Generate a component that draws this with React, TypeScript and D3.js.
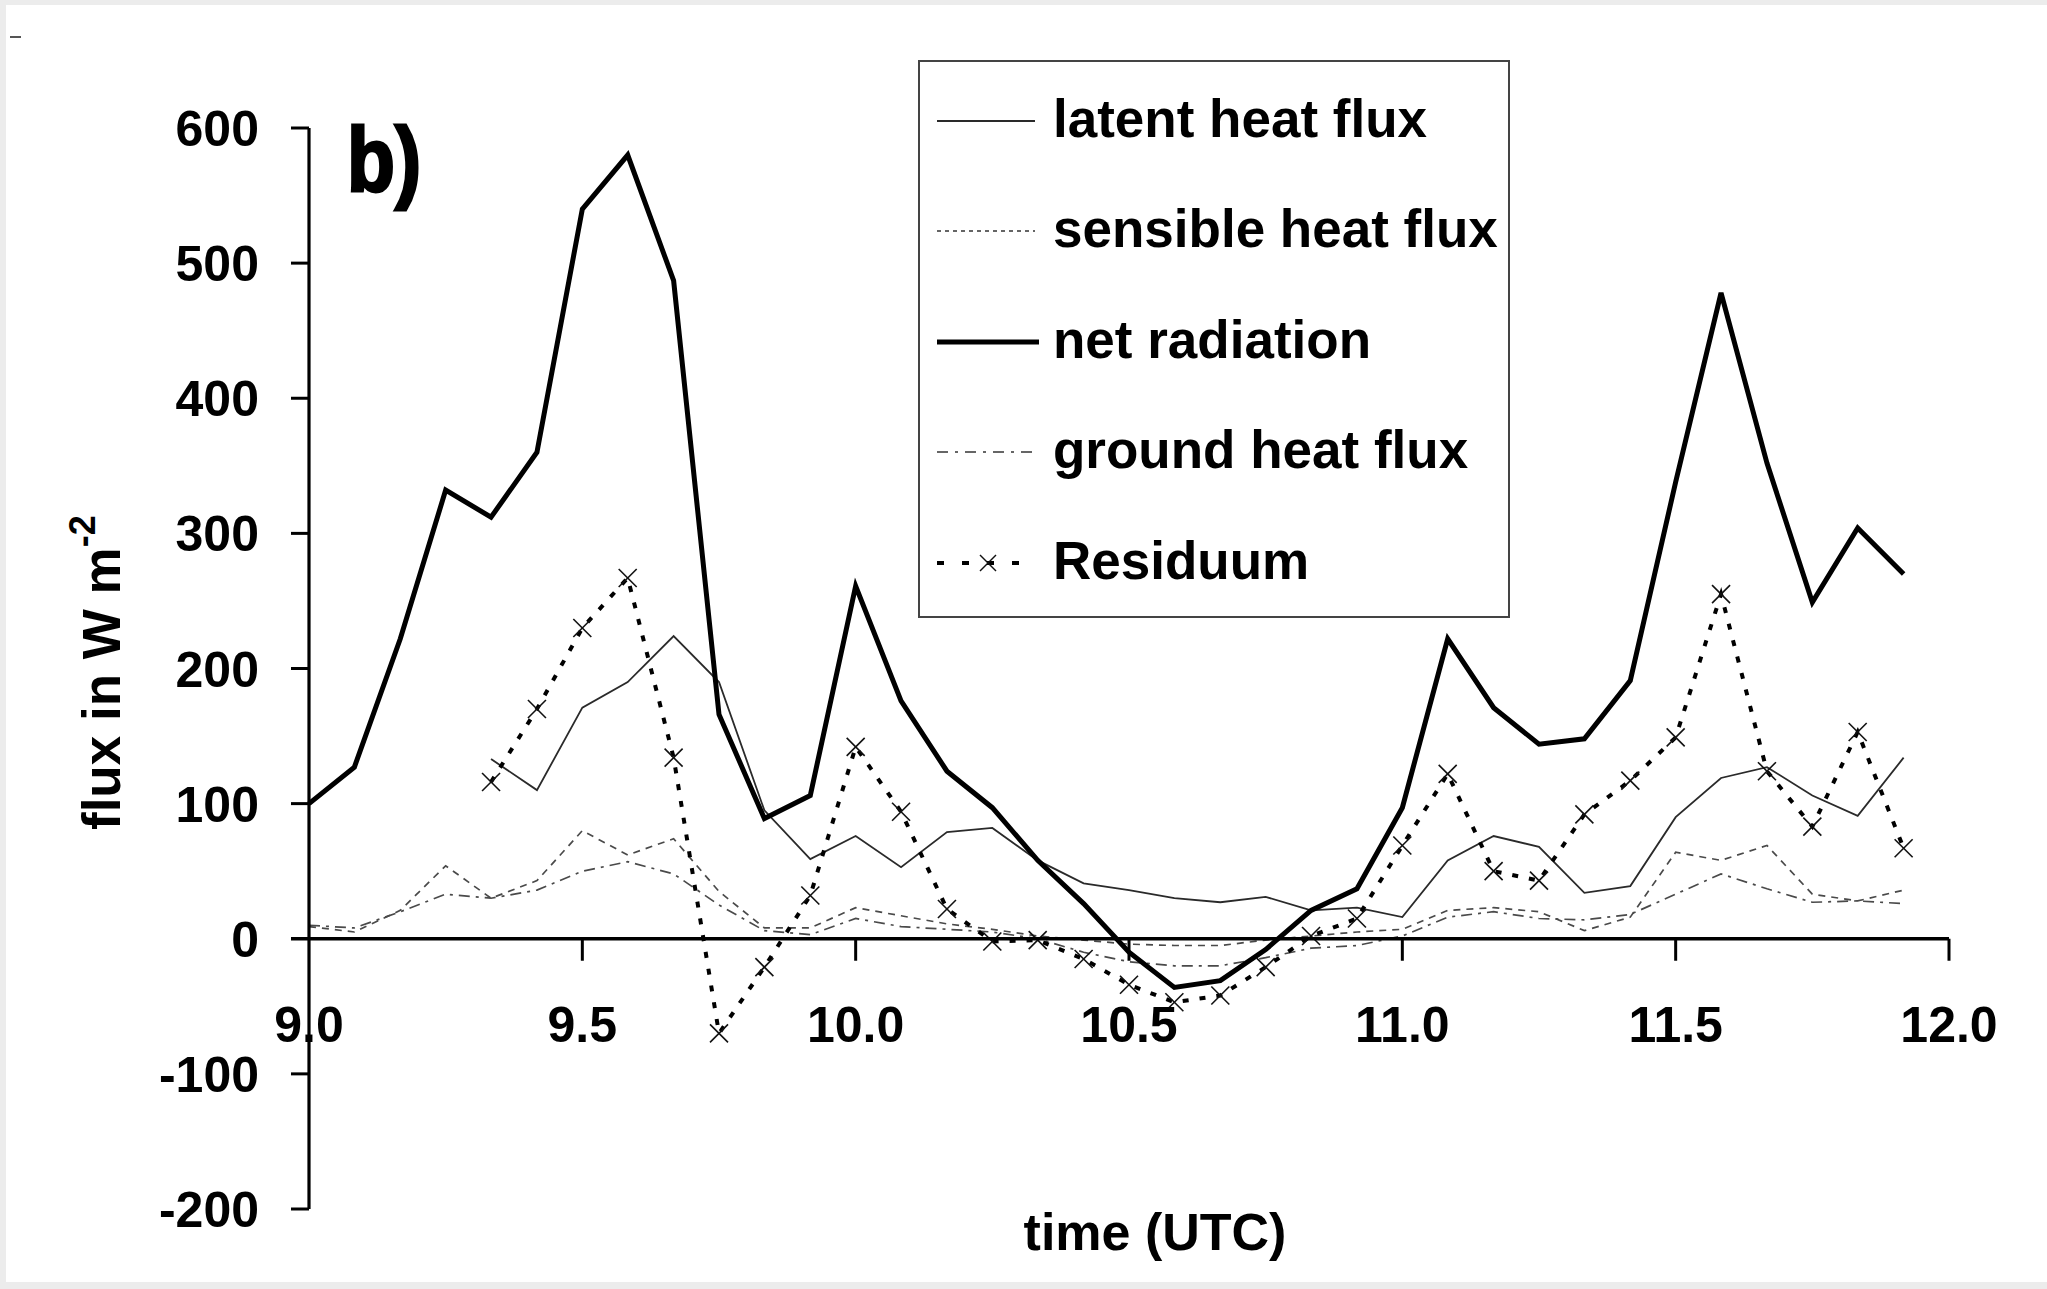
import React from "react";
import * as d3 from "d3";

// ---- data ----
const times = [
  9.0, 9.083, 9.167, 9.25, 9.333, 9.417, 9.5, 9.583, 9.667, 9.75, 9.833, 9.917,
  10.0, 10.083, 10.167, 10.25, 10.333, 10.417, 10.5, 10.583, 10.667, 10.75, 10.833, 10.917,
  11.0, 11.083, 11.167, 11.25, 11.333, 11.417, 11.5, 11.583, 11.667, 11.75, 11.833, 11.917,
];

const netRadiation = [
  100, 127, 222, 332, 312, 360, 540, 580, 487, 166, 89, 106,
  261, 176, 124, 97, 58, 26, -10, -36, -31, -8, 21, 37,
  97, 222, 171, 144, 148, 191, 338, 478, 352, 249, 304, 270,
];

const latentHeat: (number | null)[] = [
  null, null, null, null, 133, 110, 171, 190, 224, 190, 95, 59,
  76, 53, 79, 82, 58, 41, 36, 30, 27, 31, 21, 23,
  16, 58, 76, 68, 34, 39, 90, 119, 127, 106, 91, 134,
];

const sensibleHeat = [
  9, 5, 21, 54, 30, 43, 80, 62, 74, 35, 8, 8,
  23, 17, 11, 7, 2, -1, -4, -5, -5, -1, 2, 5,
  7, 21, 23, 20, 6, 16, 64, 58, 69, 33, 28, 36,
];

const groundHeat = [
  10, 8, 20, 33, 30, 36, 50, 57, 48, 25, 6, 3,
  15, 9, 7, 5, 0, -10, -17, -20, -20, -14, -7, -5,
  2, 16, 20, 15, 14, 18, 33, 48, 37, 27, 28, 26,
];

const residuum: (number | null)[] = [
  null, null, null, null, 116, 170, 230, 267, 134, -70, -21, 32,
  142, 94, 22, -2, -1, -15, -34, -47, -42, -21, 2, 15,
  69, 122, 50, 43, 92, 117, 149, 255, 124, 83, 153, 67,
];

const xTicks = [9.0, 9.5, 10.0, 10.5, 11.0, 11.5, 12.0];
const yTicks = [-200, -100, 0, 100, 200, 300, 400, 500, 600];

const legendLabels = [
  "latent heat flux",
  "sensible heat flux",
  "net radiation",
  "ground heat flux",
  "Residuum",
];

const FONT = "'Liberation Sans', Arial, Helvetica, sans-serif";

export default function App() {
  const W = 2047;
  const H = 1289;
  const x = d3.scaleLinear().domain([9, 12]).range([309, 1949]);
  const y = d3.scaleLinear().domain([-200, 600]).range([1209, 128]);

  const mk = (vals: (number | null)[]) =>
    d3
      .line<number>()
      .defined((_, i) => vals[i] !== null)
      .x((_, i) => x(times[i]))
      .y((_, i) => y(vals[i] as number))(times.map((t) => t)) || "";

  const series = [
    { d: mk(latentHeat), stroke: "#2a2a2a", w: 1.8, dash: undefined as string | undefined },
    { d: mk(sensibleHeat), stroke: "#4a4a4a", w: 1.7, dash: "7 6" },
    { d: mk(groundHeat), stroke: "#4a4a4a", w: 1.7, dash: "11 6 3 6" },
    { d: mk(netRadiation), stroke: "#000", w: 5, dash: undefined },
    { d: mk(residuum), stroke: "#000", w: 4, dash: "6 11" },
  ];

  const cross = (cx: number, cy: number, r: number, key: string | number, sw = 1.6) => (
    <g key={key} stroke="#111" strokeWidth={sw}>
      <line x1={cx - r} y1={cy - r} x2={cx + r} y2={cy + r} />
      <line x1={cx - r} y1={cy + r} x2={cx + r} y2={cy - r} />
    </g>
  );

  const legendX0 = 937;
  const legendX1 = 1035;
  const legendYs = [121, 231, 342, 452, 563];

  return (
    <svg
      width={W}
      height={H}
      style={{ position: "absolute", left: 0, top: 0, background: "#fff" }}
      fontFamily={FONT}
    >
      <rect x={0} y={0} width={W} height={H} fill="#ececec" />
      <rect x={6} y={5} width={W - 6} height={H - 12} fill="#ffffff" />
      <line x1={10} y1={37} x2={21} y2={37} stroke="#555" strokeWidth={2} />

      {/* series */}
      {series.map((s, i) => (
        <path
          key={i}
          d={s.d}
          fill="none"
          stroke={s.stroke}
          strokeWidth={s.w}
          strokeDasharray={s.dash}
          strokeLinejoin="miter"
        />
      ))}
      {residuum.map((v, i) =>
        v === null ? null : cross(x(times[i]), y(v), 9, "m" + i)
      )}

      {/* axes */}
      <line x1={309} y1={y(600)} x2={309} y2={y(-200)} stroke="#000" strokeWidth={3.2} />
      <line x1={291} y1={y(0)} x2={x(12)} y2={y(0)} stroke="#000" strokeWidth={3.6} />
      {yTicks.map((t) => (
        <g key={"yt" + t}>
          {t !== 0 && (
            <line x1={291} y1={y(t)} x2={309} y2={y(t)} stroke="#000" strokeWidth={3} />
          )}
          <text
            x={259}
            y={y(t) + 18}
            textAnchor="end"
            fontSize={50}
            fontWeight="bold"
            fill="#000"
          >
            {t}
          </text>
        </g>
      ))}
      {xTicks.map((t) => (
        <g key={"xt" + t}>
          {t !== 9 && (
            <line x1={x(t)} y1={y(0)} x2={x(t)} y2={y(0) + 22} stroke="#000" strokeWidth={3} />
          )}
          <text
            x={x(t)}
            y={1042}
            textAnchor="middle"
            fontSize={50}
            fontWeight="bold"
            fill="#000"
          >
            {t.toFixed(1)}
          </text>
        </g>
      ))}

      {/* axis titles */}
      <text
        x={1155}
        y={1250}
        textAnchor="middle"
        fontSize={52}
        fontWeight="bold"
        fill="#000"
      >
        time (UTC)
      </text>
      <text
        transform="translate(120,830) rotate(-90)"
        fontSize={53}
        fontWeight="bold"
        fill="#000"
      >
        flux in W m
        <tspan dy={-25} fontSize={36}>
          -2
        </tspan>
      </text>

      {/* panel label */}
      <text
        x={347}
        y={191}
        fontSize={90}
        fontWeight="bold"
        fill="#000"
        stroke="#000"
        strokeWidth={3}
        textLength={74}
        lengthAdjust="spacingAndGlyphs"
      >
        b)
      </text>

      {/* legend */}
      <rect x={919} y={61} width={590} height={556} fill="#fff" stroke="#444" strokeWidth={2} />
      <line x1={legendX0} y1={legendYs[0]} x2={legendX1} y2={legendYs[0]} stroke="#2a2a2a" strokeWidth={1.8} />
      <line x1={legendX0} y1={legendYs[1]} x2={legendX1} y2={legendYs[1]} stroke="#333" strokeWidth={1.6} strokeDasharray="4 4" />
      <line x1={legendX0} y1={legendYs[2]} x2={legendX1 + 4} y2={legendYs[2]} stroke="#000" strokeWidth={5} />
      <line x1={legendX0} y1={legendYs[3]} x2={legendX1} y2={legendYs[3]} stroke="#666" strokeWidth={1.8} strokeDasharray="11 7 3 7" />
      <line x1={legendX0} y1={legendYs[4]} x2={legendX1} y2={legendYs[4]} stroke="#000" strokeWidth={4} strokeDasharray="7 18" />
      {cross(988, legendYs[4], 8, "lm", 1.5)}
      {legendLabels.map((l, i) => (
        <text
          key={l}
          x={1053}
          y={legendYs[i] + 16}
          fontSize={53}
          fontWeight="bold"
          fill="#000"
        >
          {l}
        </text>
      ))}
    </svg>
  );
}
